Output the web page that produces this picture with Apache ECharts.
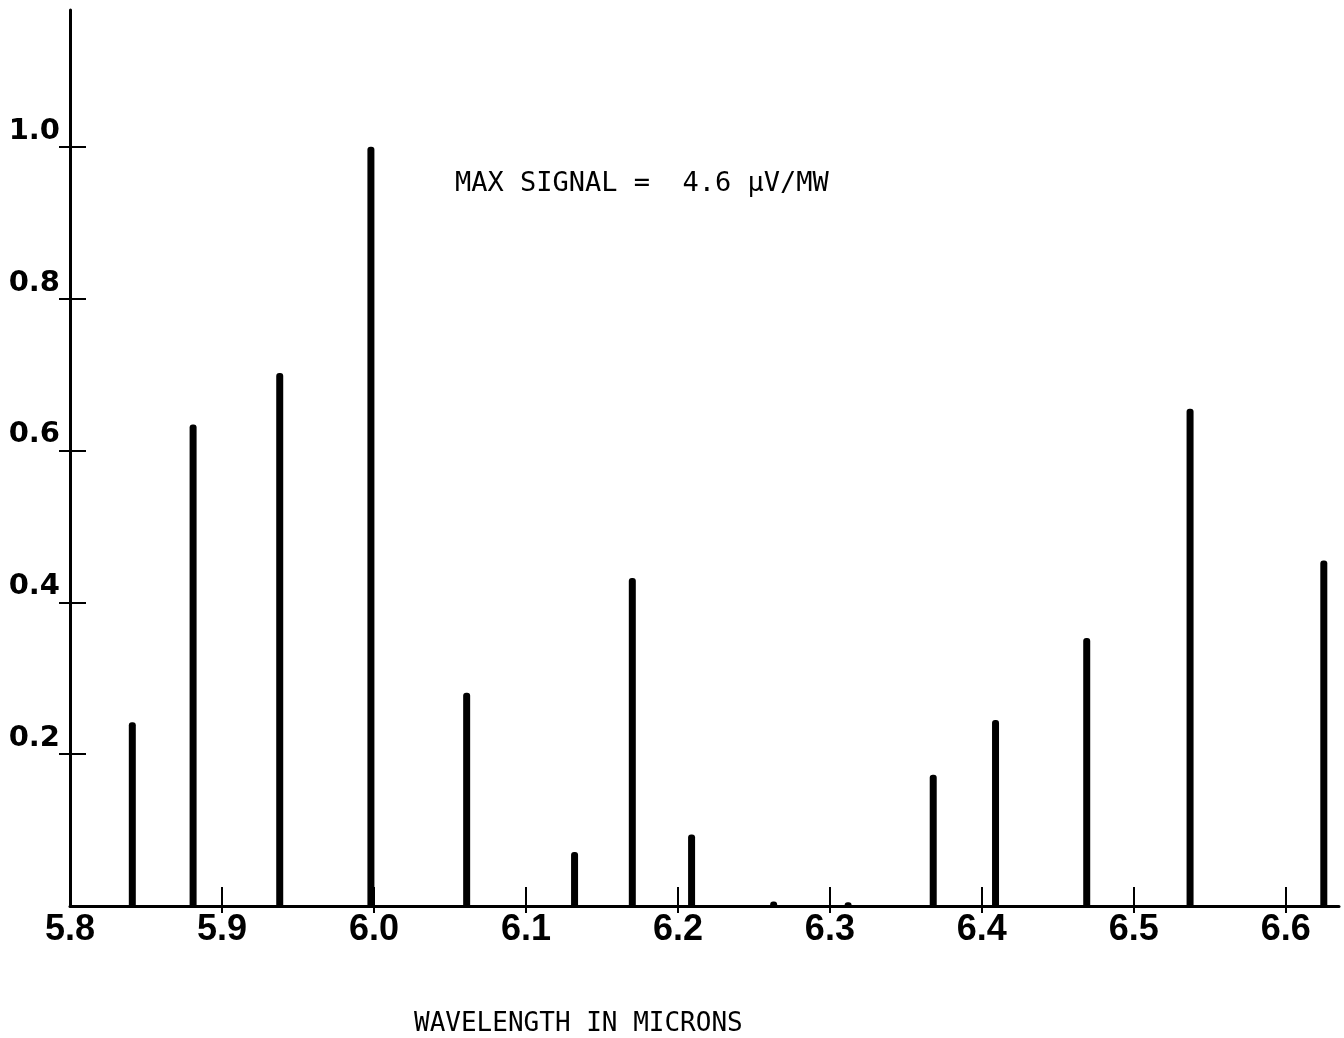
<!DOCTYPE html>
<html>
<head>
<meta charset="utf-8">
<script src="https://cdn.jsdelivr.net/npm/echarts@6/dist/echarts.min.js"></script>
<style>
  html, body { margin: 0; padding: 0; background: #fff; }
  #chart { width: 1344px; height: 1038px; }
</style>
</head>
<body>
<div id="chart"></div>
<script>
// Line positions (microns) and relative signal strength
const wavelengths = [5.841, 5.881, 5.938, 5.998, 6.061, 6.132, 6.170, 6.209, 6.263, 6.312, 6.368, 6.409, 6.469, 6.537, 6.625];
const signals     = [0.242, 0.634, 0.702, 1.000, 0.281, 0.071, 0.432, 0.094, 0.006, 0.005, 0.173, 0.245, 0.353, 0.655, 0.455];

// Axis tick labels
const xLabels = [5.8, 5.9, 6.0, 6.1, 6.2, 6.3, 6.4, 6.5, 6.6];
const xTicks  = [5.9, 6.0, 6.1, 6.2, 6.3, 6.4, 6.5, 6.6];
const yLabels = [0.2, 0.4, 0.6, 0.8, 1.0];

const noteText = 'MAX SIGNAL =  4.6 µV/MW';
const xTitle = 'WAVELENGTH IN MICRONS';

const chart = echarts.init(document.getElementById('chart'), null, { renderer: 'canvas' });

const ink = '#000';
const mono = '"DejaVu Sans Mono", "Liberation Mono", monospace';

const xCommon = {
  type: 'value', min: 5.8, max: 6.635, interval: 0.1,
  position: 'bottom', splitLine: { show: false }
};
const yCommon = {
  type: 'value', min: 0, max: 1.18, interval: 0.2,
  position: 'left', splitLine: { show: false }
};

chart.setOption({
  animation: false,
  backgroundColor: '#fff',
  grid: { left: 70, top: 10, width: 1269, height: 896 },
  title: [
    {
      text: noteText, left: 450, top: 165,
      textStyle: { fontFamily: mono, fontSize: 27, fontWeight: 'normal', color: ink }
    },
    {
      text: xTitle, left: 409, top: 1006,
      textStyle: { fontFamily: mono, fontSize: 26, fontWeight: 'normal', color: ink }
    }
  ],
  xAxis: [
    Object.assign({}, xCommon, {
      axisLine: { show: true, lineStyle: { color: ink, width: 3 } },
      axisTick: { show: true, inside: false, length: 7, customValues: xTicks, lineStyle: { color: ink, width: 2 } },
      axisLabel: {
        show: true, customValues: xLabels, margin: 6,
        formatter: v => v.toFixed(1),
        fontFamily: '"Liberation Sans Narrow", "Liberation Sans", Arial, sans-serif',
        fontWeight: 'bold', fontSize: 36, color: ink
      }
    }),
    Object.assign({}, xCommon, {
      axisLine: { show: false },
      axisTick: { show: true, inside: true, length: 19, customValues: xTicks, lineStyle: { color: ink, width: 2 } },
      axisLabel: { show: false }
    })
  ],
  yAxis: [
    Object.assign({}, yCommon, {
      axisLine: { show: true, lineStyle: { color: ink, width: 3 } },
      axisTick: { show: true, inside: false, length: 11, customValues: yLabels, lineStyle: { color: ink, width: 2 } },
      axisLabel: {
        show: true, customValues: yLabels, margin: 10,
        verticalAlign: 'bottom', padding: [0, 0, 1, 0],
        formatter: v => v.toFixed(1),
        fontFamily: '"DejaVu Sans", sans-serif', fontWeight: 'bold', fontSize: 29, color: ink
      }
    }),
    Object.assign({}, yCommon, {
      axisLine: { show: false },
      axisTick: { show: true, inside: true, length: 16, customValues: yLabels, lineStyle: { color: ink, width: 2 } },
      axisLabel: { show: false }
    })
  ],
  series: [{
    type: 'bar',
    xAxisIndex: 0, yAxisIndex: 0,
    barWidth: 7,
    itemStyle: { color: ink, borderRadius: [3, 3, 0, 0] },
    data: wavelengths.map((w, i) => [w, signals[i]])
  }]
});
</script>
</body>
</html>
